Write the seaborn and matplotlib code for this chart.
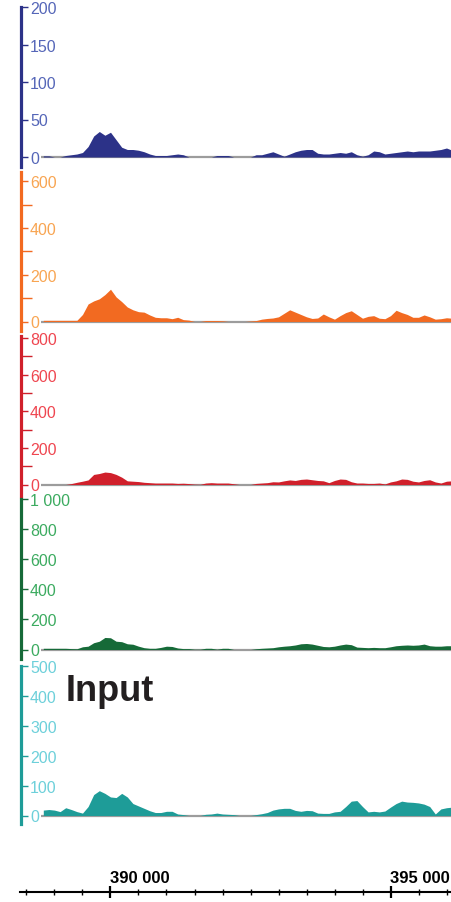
import numpy as np
import pandas as pd
import matplotlib
matplotlib.use("Agg")
import matplotlib.pyplot as plt
from matplotlib.ticker import FuncFormatter, MultipleLocator
import seaborn as sns

# Coverage tracks, one value per 100 bp bin, first bin centred on 388 800 bp
BIN_START = 388800
BIN_STEP = 100

track_blue = [1.5, 1.5, 0, 0, 2, 3, 4, 6, 14, 28, 34, 29, 33, 23, 13, 10, 10, 9, 7, 4,
              2, 2, 2, 3, 4, 3, 0, 0, 0, 0, 0, 2, 2, 2, 0, 0, 0, 0, 3, 3,
              5, 7, 4, 1, 4, 7, 9, 10, 10, 5, 4, 4, 5, 6, 5, 7, 3, 1, 3, 8,
              7, 4, 5, 6, 7, 8, 7, 8, 8, 8, 9, 10, 12, 9]
track_orange = [5, 5, 5, 5, 5, 5, 5, 30, 75, 88, 97, 115, 138, 105, 85, 62, 50, 42, 40, 28,
                18, 16, 16, 12, 18, 8, 6, 0, 0, 4, 4, 4, 3, 0, 0, 0, 0, 2, 4, 10,
                13, 15, 20, 35, 50, 40, 30, 20, 13, 15, 32, 20, 10, 25, 38, 46, 30, 14, 22, 25,
                14, 12, 25, 48, 38, 30, 18, 18, 28, 20, 10, 12, 16, 14]
track_red = [0, 0, 0, 0, 0, 5, 12, 18, 25, 55, 60, 68, 65, 55, 40, 20, 18, 16, 12, 10,
             8, 8, 8, 8, 6, 7, 5, 2, 1, 8, 10, 8, 8, 8, 4, 0, 0, 0, 6, 8,
             10, 15, 14, 20, 25, 22, 28, 30, 26, 22, 20, 10, 22, 30, 28, 15, 8, 8, 6, 6,
             8, 3, 14, 20, 30, 28, 18, 14, 22, 26, 14, 8, 18, 20]
track_green = [8, 8, 8, 8, 8, 6, 5, 18, 22, 45, 55, 80, 78, 55, 52, 38, 35, 22, 12, 8,
               8, 14, 22, 20, 10, 6, 6, 2, 2, 8, 8, 2, 8, 8, 0, 0, 0, 0, 5, 8,
               10, 12, 18, 22, 25, 30, 38, 40, 36, 28, 20, 18, 22, 30, 36, 32, 16, 14, 12, 14,
               12, 12, 18, 25, 28, 30, 28, 30, 36, 25, 22, 22, 25, 25]
track_input = [18, 20, 18, 13, 26, 20, 13, 8, 30, 70, 83, 74, 62, 60, 74, 62, 40, 32, 24, 16,
               10, 10, 14, 14, 5, 3, 0, 0, 0, 4, 5, 8, 5, 4, 3, 0, 0, 0, 3, 6,
               10, 18, 22, 24, 24, 17, 14, 17, 16, 8, 7, 7, 12, 14, 30, 48, 50, 30, 12, 14,
               12, 15, 28, 40, 48, 45, 44, 42, 38, 30, 5, 22, 26, 28]

# Scale bar
scale_major = [390000, 395000]
scale_minor_step = 500

# Track styling: values, bar/fill colour, label colour, axis top value,
# major tick step, minor tick step, and the track's vertical placement (px)
panels = [
    dict(values=track_blue, color="#2c3288", label="#5566b8", ytop=200,
         major=50, minor=None, top=8, zero=158, bottom=168),
    dict(values=track_orange, color="#f26a21", label="#f8a552", ytop=639,
         major=200, minor=100, top=173, zero=322.5, bottom=332),
    dict(values=track_red, color="#d0202b", label="#ef4650", ytop=811,
         major=200, minor=100, top=337, zero=485.5, bottom=497),
    dict(values=track_green, color="#166a38", label="#3cab60", ytop=1000,
         major=200, minor=None, top=500, zero=650.5, bottom=660),
    dict(values=track_input, color="#1e9c98", label="#6dd0da", ytop=500,
         major=100, minor=None, top=667, zero=816.5, bottom=825),
]

sns.set_style("white")
plt.rcParams["font.family"] = ["Liberation Sans", "DejaVu Sans"]

W, H = 452, 903
fig = plt.figure(figsize=(W / 100, H / 100), dpi=100)


def fx(px):
    return px / W


def fy(px):
    return 1 - px / H


# genome coordinate <-> horizontal pixel mapping (390 000 and 395 000 anchors)
PX_390K, PX_395K = 110.5, 390.5
BP_PER_PX = 5000 / (PX_395K - PX_390K)


def px_to_bp(px):
    return 390000 + (px - PX_390K) * BP_PER_PX


def spaced(v, _pos=None):
    return f"{int(round(v)):,}".replace(",", " ")


TRACK_LEFT, RIGHT = 21, 452
track_xlim = (px_to_bp(TRACK_LEFT), px_to_bp(RIGHT))

for p in panels:
    vals = np.asarray(p["values"], dtype=float)
    pos = BIN_START + BIN_STEP * np.arange(len(vals))
    edges = [float(e) for e in np.append(pos - BIN_STEP / 2, pos[-1] + BIN_STEP / 2)]
    df = pd.DataFrame({"position": pos, "coverage": vals})

    ax = fig.add_axes([fx(TRACK_LEFT), fy(p["bottom"]), fx(RIGHT - TRACK_LEFT),
                       (p["bottom"] - p["top"]) / H])
    ax.patch.set_alpha(0)

    ax.hlines(0, edges[0], track_xlim[1], color="#9c9c9c", lw=1.6, zorder=1)
    sns.histplot(data=df, x="position", weights="coverage", bins=edges,
                 element="poly", fill=True, color=p["color"], alpha=1,
                 linewidth=0, ax=ax, zorder=2)

    ylow = -p["ytop"] * (p["bottom"] - p["zero"]) / (p["zero"] - p["top"])
    ax.set_xlim(track_xlim)
    ax.set_ylim(ylow, p["ytop"])
    ax.set_xlabel("")
    ax.set_ylabel("")
    ax.set_xticks([])

    for side in ("top", "right", "bottom"):
        ax.spines[side].set_visible(False)
    ax.spines["left"].set_color(p["color"])
    ax.spines["left"].set_linewidth(2.3)

    ax.set_yticks(np.arange(0, p["ytop"] + 1, p["major"]))
    if p["minor"]:
        ax.yaxis.set_minor_locator(MultipleLocator(p["minor"]))
    ax.yaxis.set_major_formatter(FuncFormatter(spaced))
    ax.tick_params(axis="y", which="major", left=True, direction="in", length=5,
                   width=1, color=p["color"], labelcolor=p["label"],
                   labelsize=11.5, pad=-6.5)
    ax.tick_params(axis="y", which="minor", left=True, direction="in", length=8,
                   width=1, color=p["color"])
    plt.setp(ax.get_yticklabels(), ha="left")

# Genome coordinate scale bar
SCALE_LEFT, SCALE_Y = 20, 893
sax = fig.add_axes([fx(SCALE_LEFT), fy(SCALE_Y), fx(RIGHT - SCALE_LEFT), 0.0001])
sax.patch.set_alpha(0)
sax.set_xlim(px_to_bp(SCALE_LEFT), px_to_bp(RIGHT))
sax.set_yticks([])
for side in ("top", "right", "left"):
    sax.spines[side].set_visible(False)
sax.spines["bottom"].set_color("black")
sax.spines["bottom"].set_linewidth(1.5)
sax.set_xticks(scale_major)
sax.xaxis.set_minor_locator(MultipleLocator(scale_minor_step))
sax.xaxis.set_major_formatter(FuncFormatter(spaced))
sax.tick_params(axis="x", which="major", direction="inout", length=8, width=1.6,
                bottom=True, top=False, labelbottom=False, labeltop=True,
                labelsize=12, pad=0.8, colors="black")
sax.tick_params(axis="x", which="minor", direction="inout", length=4, width=1,
                bottom=True, top=False, colors="black")
plt.setp(sax.get_xticklabels(), ha="left", fontweight="bold")

fig.text(fx(66), fy(701), "Input", fontsize=26, fontweight="bold",
         color="#231f20", ha="left", va="baseline")

fig.savefig("out.png", dpi=100)
